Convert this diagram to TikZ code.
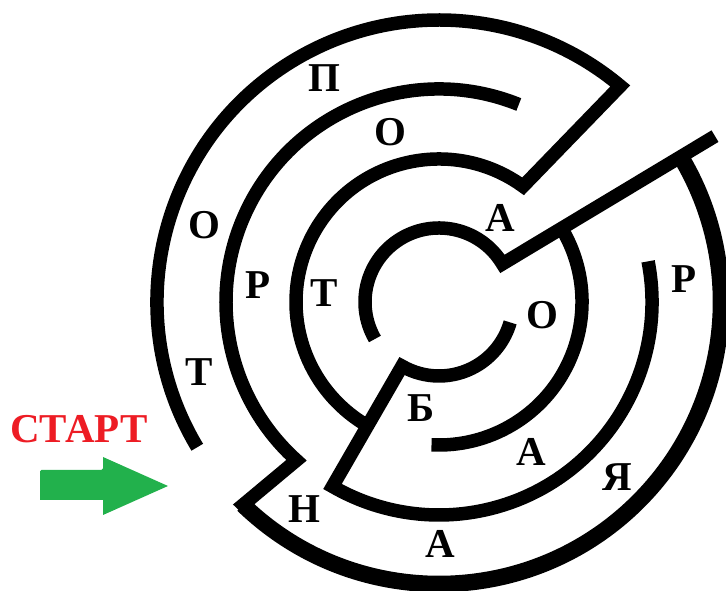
\documentclass[tikz,border=0pt]{standalone}
\usepackage{fontspec}
\setmainfont{Liberation Serif}
\usepackage{xcolor}
\usepackage{tikz}
\definecolor{startred}{HTML}{ED1C24}
\definecolor{startgreen}{HTML}{22B14C}

\begin{document}
\begin{tikzpicture}[
    x=1pt, y=1pt,
    wall/.style={draw=black, line width=13.5pt, line join=miter},
    thickwall/.style={draw=black, line width=16.5pt},
    letter/.style={inner sep=0pt, text=black,
      font=\fontsize{41}{49}\selectfont\bfseries},
    starttext/.style={inner sep=0pt, text=startred,
      font=\fontsize{41}{49}\selectfont\bfseries},
  ]
  \useasboundingbox (0,0) rectangle (726,591);

  % maze walls, centred on the middle of the rings
  \begin{scope}[shift={(439,289)}]
    \draw[wall] (211:282) arc[start angle=211, end angle=50, radius=282]
      -- (54:143) arc[start angle=54, end angle=240, radius=143];
    \draw[wall] (68:213) arc[start angle=68, end angle=228, radius=213]
      -- (226:282) arc[start angle=226, end angle=391, radius=282];
    \draw[thickwall] (226:282) arc[start angle=226, end angle=391, radius=282];
    \draw[wall] (31:322) -- (31:74) arc[start angle=31, end angle=210, radius=74];
    \draw[wall] (31:143) arc[start angle=31, end angle=-93, radius=143];
    \draw[wall] (11:213) arc[start angle=11, end angle=-120, radius=213]
      -- (240:74) arc[start angle=240, end angle=344, radius=74];
  \end{scope}

  % letters along the way
  \node[letter] (t1) at (199,219) {Т};
  \node[letter] (o1) at (204,366) {О};
  \node[letter] (p1) at (324,513) {П};
  \node[letter] (o2) at (390,459) {О};
  \node[letter] (r1) at (258,306) {Р};
  \node[letter] (t2) at (324,298) {Т};
  \node[letter] (a1) at (500,373) {А};
  \node[letter] (o3) at (542,276) {О};
  \node[letter] (b1) at (421,183) {Б};
  \node[letter] (a2) at (531,139) {А};
  \node[letter] (ya) at (617,114) {Я};
  \node[letter] (r2) at (684,312) {Р};
  \node[letter] (n1) at (304,82) {Н};
  \node[letter] (a3) at (440,47) {А};

  % start
  \node[starttext] (start) at (79,162) {СТАРТ};
  \fill[startgreen, rounded corners=1.5pt] (40,91) -- (40,121) -- (103,121)
    [sharp corners] -- (103,134) -- (168,105) -- (103,76) -- (103,91) -- cycle;
\end{tikzpicture}
\end{document}
